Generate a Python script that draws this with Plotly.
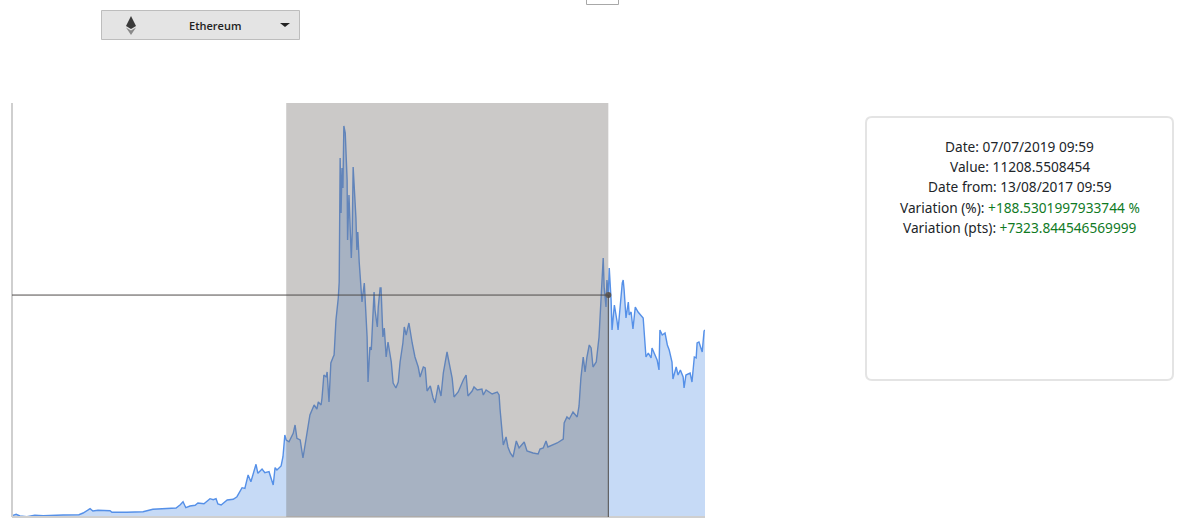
import pandas as pd
import plotly.graph_objects as go

WIDTH = 1183
HEIGHT = 529
LEFT, RIGHT, TOP, BOTTOM = 12, 705, 103, 517

START = pd.Timestamp("2016-01-01 09:59")
END = pd.Timestamp("2020-01-31 09:59")
DATE_FROM = pd.Timestamp("2017-08-13 09:59")
DATE_TO = pd.Timestamp("2019-07-07 09:59")
VALUE_TO = 11208.5508454
Y_MAX = 20907

# days since START
days = [
    0, 9, 17, 32, 49, 67, 110, 144, 153, 161, 168, 174, 185, 211, 215, 247, 282, 303, 353, 362,
    368, 374, 383, 394, 400, 413, 426, 433, 439, 443, 450, 463, 476, 484, 495, 501, 508, 514, 525, 529,
    538, 544, 553, 562, 566, 570, 579, 583, 587, 590, 596, 605, 609, 613, 620, 626, 635, 641, 650, 656,
    659, 665, 667, 671, 676, 678, 682, 686, 691, 693, 697, 702, 704, 706, 708, 710, 712, 714, 717, 721,
    722, 723, 725, 730, 732, 734, 736, 740, 742, 744, 747, 751, 753, 758, 760, 764, 766, 770, 773, 777,
    779, 781, 786, 788, 792, 794, 798, 801, 805, 809, 816, 820, 826, 831, 835, 841, 844, 848, 854, 861,
    867, 874, 878, 885, 889, 893, 900, 906, 910, 917, 923, 928, 936, 938, 947, 951, 960, 971, 977, 981,
    990, 994, 1001, 1011, 1014, 1020, 1033, 1044, 1048, 1050, 1055, 1057, 1063, 1067, 1072, 1078, 1085, 1091, 1102, 1108,
    1121, 1132, 1136, 1143, 1149, 1153, 1173, 1186, 1188, 1194, 1199, 1207, 1216, 1220, 1224, 1229, 1233, 1237, 1242, 1246,
    1250, 1257, 1263, 1268, 1272, 1274, 1278, 1280, 1283, 1285, 1289, 1291, 1296, 1302, 1304, 1313, 1315, 1317, 1321, 1326,
    1328, 1332, 1336, 1341, 1347, 1358, 1364, 1369, 1375, 1377, 1384, 1388, 1392, 1394, 1399, 1405, 1410, 1414, 1420, 1422,
    1429, 1433, 1438, 1444, 1446, 1450, 1459, 1463, 1468, 1472, 1474, 1478, 1485, 1489, 1491,
]
values = [
    66, 136, 50, 15, 86, 66, 100, 116, 202, 303, 419, 303, 338, 318, 237, 237, 268, 389, 455, 621,
    773, 470, 556, 591, 707, 672, 924, 874, 924, 657, 606, 859, 894, 1025, 1480, 1449, 2121, 1783, 2661, 2207,
    2424, 2237, 2288, 1616, 2490, 2374, 2576, 3045, 4141, 3885, 3800, 4227, 4646, 3974, 3889, 2980, 4290, 5151, 5656, 5454,
    5808, 5656, 6010, 7171, 7070, 7323, 5808, 7777, 8080, 8181, 9949, 11060, 11868, 18130, 15352, 17625, 16615, 19746, 19392, 17019,
    13989, 14847, 16261, 13080, 14342, 17675, 16918, 15100, 13484, 14393, 12878, 11211, 10858, 11817, 10605, 9090, 6818, 8585, 8434, 10100,
    11363, 10454, 9595, 10605, 11565, 11565, 9090, 9545, 8080, 8838, 7828, 6767, 6515, 6818, 7828, 8787, 9595, 9191, 9797, 8787,
    8080, 7575, 7070, 7575, 7525, 6363, 6616, 6010, 5757, 6666, 6111, 7272, 8333, 8080, 7020, 6060, 6313, 6919, 7171, 6111,
    6363, 6565, 6414, 6464, 6161, 6414, 6212, 6313, 6161, 5454, 4394, 3636, 4040, 3535, 3232, 3030, 3838, 3485, 3788, 3333,
    3232, 3182, 3434, 3485, 3838, 3535, 3737, 3939, 4747, 5050, 4949, 5303, 5050, 5606, 7020, 8080, 7323, 8080, 8686, 8535,
    7575, 7828, 9090, 11060, 13080, 11615, 10605, 11968, 11209, 12575, 10959, 9444, 10706, 9848, 9444, 11817, 11968, 11464, 10050, 10858,
    10201, 10353, 9494, 10605, 10353, 10050, 8080, 8282, 8030, 8535, 8080, 7929, 7424, 9444, 9191, 9292, 8686, 8434, 7828, 6969,
    7575, 7171, 7424, 7070, 6515, 7171, 7272, 6818, 8080, 8030, 8787, 8838, 8333, 9393, 9444,
]

info_lines = [
    ("Date: 07/07/2019 09:59", "", 146),
    ("Value: 11208.5508454", "", 166),
    ("Date from: 13/08/2017 09:59", "", 186),
    ("Variation (%): ", "+188.5301997933744 %", 207),
    ("Variation (pts): ", "+7323.844546569999", 227),
]

dates = START + pd.to_timedelta(days, unit="D")


# page pixels to paper coordinates, for the bits around the chart
def xp(px):
    return (px - LEFT) / (RIGHT - LEFT)


def yp(py):
    return (BOTTOM - py) / (BOTTOM - TOP)


def path(points, close=True):
    d = "M" + " L".join(f"{xp(x)},{yp(y)}" for x, y in points)
    return d + (" Z" if close else "")


def round_rect(x0, y0, x1, y1, r):
    return (
        f"M{xp(x0 + r)},{yp(y0)} L{xp(x1 - r)},{yp(y0)} Q{xp(x1)},{yp(y0)} {xp(x1)},{yp(y0 + r)} "
        f"L{xp(x1)},{yp(y1 - r)} Q{xp(x1)},{yp(y1)} {xp(x1 - r)},{yp(y1)} "
        f"L{xp(x0 + r)},{yp(y1)} Q{xp(x0)},{yp(y1)} {xp(x0)},{yp(y1 - r)} "
        f"L{xp(x0)},{yp(y0 + r)} Q{xp(x0)},{yp(y0)} {xp(x0 + r)},{yp(y0)} Z"
    )


fig = go.Figure()
fig.add_trace(go.Scatter(
    x=dates,
    y=values,
    mode="lines",
    fill="tozeroy",
    fillcolor="#c6daf6",
    line=dict(color="#5590e8", width=1.4),
    hoverinfo="skip",
))
fig.add_trace(go.Scatter(
    x=[DATE_TO],
    y=[VALUE_TO],
    mode="markers",
    marker=dict(color="#5a5654", size=6),
    hoverinfo="skip",
))

shapes = [
    # axis lines
    dict(type="line", xref="paper", yref="paper", x0=0, x1=0, y0=0, y1=1,
         line=dict(color="#cfcfcf", width=2)),
    dict(type="line", xref="paper", yref="paper", x0=0, x1=1, y0=0, y1=0,
         line=dict(color="#cfcfcf", width=2)),
    # selected period
    dict(type="rect", xref="x", yref="paper", x0=DATE_FROM, x1=DATE_TO, y0=0, y1=1,
         fillcolor="rgba(118,114,110,0.38)", line=dict(width=0), layer="above"),
    # crosshair
    dict(type="line", xref="x", yref="y", x0=START, x1=DATE_TO, y0=VALUE_TO, y1=VALUE_TO,
         line=dict(color="#4f4b49", width=1), layer="above"),
    dict(type="line", xref="x", yref="y", x0=DATE_TO, x1=DATE_TO, y0=0, y1=VALUE_TO,
         line=dict(color="#4f4b49", width=1), layer="above"),
    # dropdown button
    dict(type="rect", xref="paper", yref="paper", x0=xp(101.5), x1=xp(299.5), y0=yp(39.5), y1=yp(10.5),
         fillcolor="#e4e4e4", line=dict(color="#bdbdbd", width=1)),
    dict(type="path", xref="paper", yref="paper", path=path([(280, 23), (290, 23), (285, 27)]),
         fillcolor="#222222", line=dict(width=0)),
    # ethereum icon
    dict(type="path", xref="paper", yref="paper", path=path([(131, 16), (126, 26), (131, 29), (136, 26)]),
         fillcolor="#3a3a3a", line=dict(width=0)),
    dict(type="path", xref="paper", yref="paper", path=path([(126, 27.5), (131, 35), (136, 27.5), (131, 30.5)]),
         fillcolor="#8a8a8a", line=dict(width=0)),
    # button cut off at the top of the page
    dict(type="path", xref="paper", yref="paper",
         path=path([(586.5, -2), (586.5, 4.5), (618.5, 4.5), (618.5, -2)]),
         fillcolor="#ffffff", line=dict(color="#a8a8a8", width=1)),
    # info card
    dict(type="path", xref="paper", yref="paper", path=round_rect(866, 117, 1173, 380, 6),
         fillcolor="#ffffff", line=dict(color="#e4e4e4", width=2)),
]

annotations = [
    dict(text="Ethereum", x=xp(215), y=yp(25.5), xref="paper", yref="paper", showarrow=False,
         xanchor="center", yanchor="middle",
         font=dict(family="Open Sans", size=11, color="#222222", weight=600)),
]
for label, variation, py in info_lines:
    text = label
    if variation:
        text += f'<span style="color:#0f7a1f">{variation}</span>'
    annotations.append(dict(
        text=text, x=xp(1019.5), y=yp(py), xref="paper", yref="paper", showarrow=False,
        xanchor="center", yanchor="middle",
        font=dict(family="Noto Sans", size=13.7, color="#212529"),
    ))

fig.update_layout(
    width=WIDTH,
    height=HEIGHT,
    margin=dict(l=LEFT, r=WIDTH - RIGHT, t=TOP, b=HEIGHT - BOTTOM),
    paper_bgcolor="white",
    plot_bgcolor="white",
    showlegend=False,
    xaxis=dict(range=[START, END], showgrid=False, zeroline=False, showticklabels=False, ticks="",
               showline=False),
    yaxis=dict(range=[0, Y_MAX], showgrid=False, zeroline=False, showticklabels=False, ticks="",
               showline=False),
    shapes=shapes,
    annotations=annotations,
)

fig.write_html(
    "out.html",
    config={"displayModeBar": False},
    post_script="document.body.style.margin='0';document.body.style.overflow='hidden';",
)
